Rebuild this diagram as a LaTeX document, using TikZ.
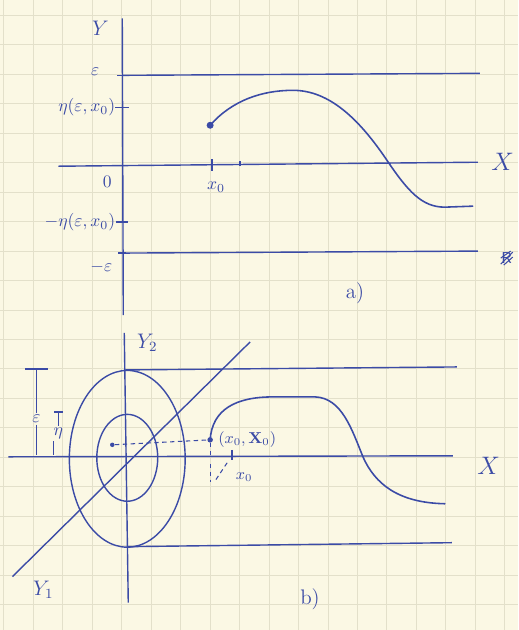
\documentclass[tikz,border=0pt]{standalone}
\usepackage{amsmath,amssymb}
\usepackage{xcolor}
\usetikzlibrary{positioning,shapes.geometric}
\definecolor{ink}{HTML}{3B4BA6}
\definecolor{paperbg}{HTML}{FBF8E4}
\definecolor{paperline}{HTML}{E3E0CA}

\begin{document}
\begin{tikzpicture}[
x=0.2mm,y=-0.2mm,
inkline/.style={draw=ink,line width=0.8pt},
curve/.style={draw=ink,line width=0.9pt,line cap=round},
guide/.style={draw=ink,line width=0.6pt,dash pattern=on 2.5pt off 2pt},
tick/.style={draw=ink,line width=0.9pt},
pt/.style={circle,fill=ink,inner sep=0pt,minimum size=1.4mm},
ring/.style={draw=ink,ellipse,line width=0.8pt,inner sep=0pt},
lbl/.style={text=ink,inner sep=1pt,font=\normalsize},
axlbl/.style={text=ink,inner sep=1pt,font=\Large}
]
\fill[paperbg] (0,0) rectangle (518,630);
\foreach \gx in {3.5,33,...,518} \draw[paperline,line width=0.5pt] (\gx,0) -- (\gx,630);
\foreach \gy in {15,44.5,...,630} \draw[paperline,line width=0.5pt] (0,\gy) -- (518,\gy);
\useasboundingbox (0,0) rectangle (518,630);

\coordinate (ytop) at (122,18);
\coordinate (ybot) at (123,315);
\coordinate (xleft) at (58,166);
\coordinate (xright) at (478,162);
\coordinate (epsleft) at (122,75);
\coordinate (epsright) at (480,73);
\coordinate (mepsleft) at (122,253);
\coordinate (mepsright) at (478,251);
\draw[inkline] (ytop) -- (ybot);
\draw[inkline] (xleft) -- (xright);
\draw[inkline] (epsleft) -- (epsright);
\draw[inkline] (mepsleft) -- (mepsright);

\coordinate (etatick) at (122,107);
\coordinate (metatick) at (122,222);
\draw[tick] ([xshift=-1.4mm]etatick) -- ([xshift=1.4mm]etatick);
\draw[tick] ([xshift=-1.2mm]metatick) -- ([xshift=1.2mm]metatick);
\draw[tick] ([xshift=-1mm]epsleft) -- ([xshift=1mm]epsleft);
\draw[tick] ([xshift=-0.8mm]mepsleft) -- ([xshift=0.8mm]mepsleft);
\coordinate (xotick) at (212,165);
\coordinate (xtwotick) at (240,164);
\draw[tick] ([yshift=1.2mm]xotick) -- ([yshift=-1.2mm]xotick);
\draw[tick] ([yshift=0.6mm]xtwotick) -- ([yshift=-0.3mm]xtwotick);

\node[axlbl,font=\large] (ylbl) at (100,28) {$Y$};
\node[lbl] (epslbl) at (95,71) {$\varepsilon$};
\node[lbl,left=1mm of etatick] (etalbl) {$\eta(\varepsilon,x_0)$};
\node[lbl] (zero) at (107,182) {$0$};
\node[lbl] (xolbl) at (216,187) {$x_0$};
\node[lbl,left=1mm of metatick] (metalbl) {$-\eta(\varepsilon,x_0)$};
\node[lbl] (mepslbl) at (101,267) {$-\varepsilon$};
\node[axlbl] (xlbl) at (503,162) {$X$};
\node[lbl,font=\large] (alabel) at (355,293) {a)};
\node[lbl,font=\small] (scrib) at (507,258) {$\mathsf{R}$};
\draw[ink,line width=0.6pt] ([shift={(-1.2mm,-1.2mm)}]scrib.center) -- ([shift={(1.2mm,1.2mm)}]scrib.center)
  ([shift={(-1.2mm,0mm)}]scrib.center) -- ([shift={(0.8mm,1.4mm)}]scrib.center)
  ([shift={(-0.6mm,-1.4mm)}]scrib.center) -- ([shift={(1.2mm,0.2mm)}]scrib.center);

\node[pt] (astart) at (210,125) {};
\draw[curve] (astart.center) .. controls (232,100) and (262,90) .. (293,90)
  .. controls (330,90) and (360,120) .. (387,160)
  .. controls (408,191) and (422,207) .. (445,207) -- (473,206);

\coordinate (ytwotop) at (124,333);
\coordinate (ytwobot) at (128,603);
\coordinate (yonelow) at (12,577);
\coordinate (yonehigh) at (250,342);
\coordinate (bxleft) at (8,457);
\coordinate (bxright) at (453,456);
\coordinate (btopleft) at (125,370);
\coordinate (btopright) at (457,367);
\coordinate (bbotleft) at (127,547);
\coordinate (bbotright) at (452,543);
\draw[inkline] (ytwotop) -- (ytwobot);
\draw[inkline] (yonelow) -- (yonehigh);
\draw[inkline] (bxleft) -- (bxright);
\draw[inkline] (btopleft) -- (btopright);
\draw[inkline] (bbotleft) -- (bbotright);

\node[ring,minimum width=23.2mm,minimum height=35.4mm] (outerring) at (127,459) {};
\node[ring,minimum width=12.2mm,minimum height=17.4mm] (innerring) at (127,458) {};

\node[axlbl,font=\large] (ytwolbl) at (147,343) {$Y_2$};
\node[axlbl,font=\large] (yonelbl) at (43,590) {$Y_1$};

\coordinate (epsbar) at (36,369);
\coordinate (epsfoot) at (36,455);
\node[lbl] (epsb) at (36,419) {$\varepsilon$};
\draw[tick] ([xshift=-2.2mm]epsbar) -- ([xshift=2.4mm]epsbar);
\draw[inkline] (epsbar) -- (epsb.north);
\draw[inkline] (epsb.south) -- (epsfoot);
\coordinate (etabar) at (58,412);
\coordinate (etafoot) at (53,455);
\node[lbl] (etab) at (58,434) {$\eta$};
\draw[tick] ([xshift=-0.8mm]etabar) -- ([xshift=1mm]etabar);
\draw[inkline] (etabar) -- (etab.north);
\draw[inkline] (etafoot |- etab.south) -- (etafoot);

\node[pt,minimum size=0.9mm] (centredot) at (112,445) {};
\node[pt,minimum size=1.1mm] (bstart) at (210,440) {};
\draw[guide] (centredot) -- (bstart);
\node[lbl,font=\small,right=0.6mm of bstart] (bstartlbl) {$(x_0,\mathbf{X}_0)$};
\coordinate (bxotick) at (232,456);
\draw[tick] ([yshift=1.2mm]bxotick) -- ([yshift=-0.8mm]bxotick);
\node[lbl,font=\small] (bxolbl) at (244,477) {$x_0$};
\coordinate (dropone) at (210,482);
\coordinate (droptwo) at (215,481);
\draw[guide] (bstart) -- (bstart |- bxleft);
\draw[guide] ([yshift=-1.4mm]bstart |- bxleft) -- (dropone);
\draw[guide] ([shift={(-1mm,-1.4mm)}]bxotick) -- (droptwo);

\draw[curve] (bstart.center) .. controls (212,410) and (235,397) .. (273,397)
  -- (315,397)
  .. controls (342,398) and (352,430) .. (363,457)
  .. controls (375,484) and (398,503) .. (445,504);

\node[axlbl] (bxlbl) at (489,466) {$X$};
\node[lbl,font=\large] (blabel) at (310,600) {b)};
\end{tikzpicture}
\end{document}
